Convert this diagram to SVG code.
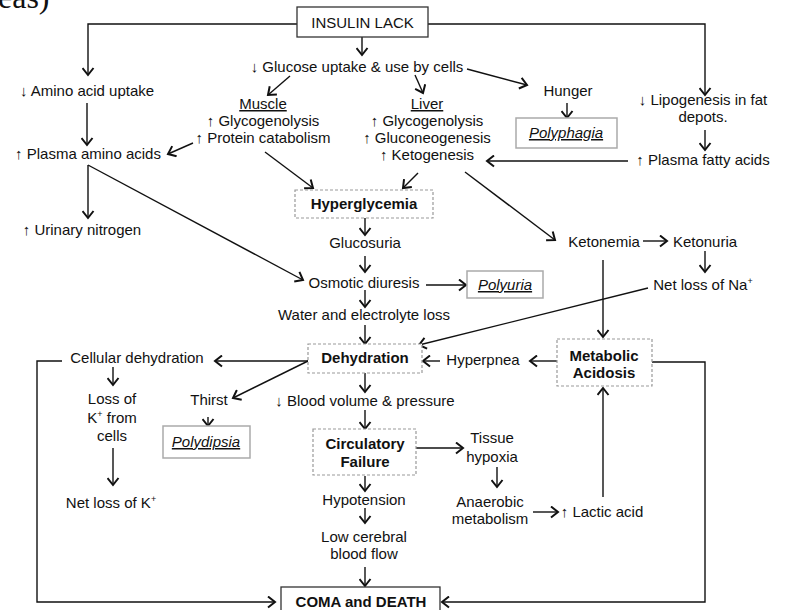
<svg xmlns="http://www.w3.org/2000/svg" width="788" height="610" viewBox="0 0 788 610">
<defs>
<style>
text{font-family:"Liberation Sans",Arial,sans-serif;font-size:15px;fill:#111;text-anchor:middle}
.b{font-weight:bold}
.i{font-style:italic;text-decoration:underline}
.u{text-decoration:underline}
.solid{fill:#fff;stroke:#333;stroke-width:1.3}
.light{fill:#fff;stroke:#aaa;stroke-width:1.5}
.dash{fill:#fff;stroke:#999;stroke-width:1.2;stroke-dasharray:3 2}
#connectors path{fill:none;stroke:#111;stroke-width:1.4;marker-end:url(#a)}
</style>
<marker id="a" markerWidth="13" markerHeight="13" refX="9.5" refY="6.5" orient="auto" markerUnits="userSpaceOnUse" viewBox="0 0 13 13">
<path d="M2.5,1 L9.5,6.5 L2.5,12" fill="none" stroke="#111" stroke-width="2"/>
</marker>
</defs>
<rect width="788" height="610" fill="#fff"/>
<text x="-2" y="8" style="font-family:'Liberation Serif',serif;font-size:32px;text-anchor:start">eas)</text>

<g id="connectors">
<path d="M297,24 H88 V75"/>
<path d="M428,24 H705 V95"/>
<path d="M362,37 V55"/>
<path d="M290,76 L268,95"/>
<path d="M415,75 L423,93"/>
<path d="M467,69 L527,85"/>
<path d="M567,103 V118"/>
<path d="M705,130 V150"/>
<path d="M628,161 H487"/>
<path d="M87,103 V145"/>
<path d="M193,143 L168,154"/>
<path d="M88,165 V218"/>
<path d="M88,165 L303,280"/>
<path d="M265,152 L313,188"/>
<path d="M418,173 L403,188"/>
<path d="M465,172 L555,240"/>
<path d="M365,218 V235"/>
<path d="M365,256 V272"/>
<path d="M426,285 H466"/>
<path d="M365,290 V307"/>
<path d="M365,325 V344"/>
<path d="M643,241 H667"/>
<path d="M705,251 V272"/>
<path d="M648,288 L419,345"/>
<path d="M603,260 V337"/>
<path d="M557,361 H530"/>
<path d="M440,361 H423"/>
<path d="M308,361 H215"/>
<path d="M308,361 L233,398"/>
<path d="M62,361 H37 V602 H275"/>
<path d="M113,367 V385"/>
<path d="M208,417 V426"/>
<path d="M113,448 V485"/>
<path d="M365,373 V392"/>
<path d="M365,410 V429"/>
<path d="M416,448 H463"/>
<path d="M497,467 V487"/>
<path d="M533,512 H558"/>
<path d="M603,497 V388"/>
<path d="M652,362 H705 V602 H442"/>
<path d="M365,476 V491"/>
<path d="M365,508 V523"/>
<path d="M365,567 V586"/>
</g>

<g id="insulin-lack"><rect class="solid" x="297" y="7" width="131" height="30"/><text x="362.5" y="28">INSULIN LACK</text></g>
<g id="glucose-uptake"><text x="357" y="72">↓ Glucose uptake &amp; use by cells</text></g>
<g id="muscle"><text class="u" x="263" y="109">Muscle</text><text x="263" y="126">↑ Glycogenolysis</text><text x="263" y="143">↑ Protein catabolism</text></g>
<g id="liver"><text class="u" x="427" y="109">Liver</text><text x="427" y="126">↑ Glycogenolysis</text><text x="427" y="143">↑ Gluconeogenesis</text><text x="427" y="160">↑ Ketogenesis</text></g>
<g id="hunger"><text x="568" y="96">Hunger</text></g>
<g id="polyphagia"><rect class="light" x="516" y="118" width="101" height="30"/><text class="i" x="566" y="138">Polyphagia</text></g>
<g id="lipogenesis"><text x="703" y="105">↓ Lipogenesis in fat</text><text x="703" y="122">depots.</text></g>
<g id="plasma-fatty-acids"><text x="703" y="165">↑ Plasma fatty acids</text></g>
<g id="amino-uptake"><text x="87" y="96">↓ Amino acid uptake</text></g>
<g id="plasma-amino-acids"><text x="88" y="159">↑ Plasma amino acids</text></g>
<g id="urinary-nitrogen"><text x="82" y="235">↑ Urinary nitrogen</text></g>
<g id="hyperglycemia"><rect class="dash" x="295" y="190" width="138" height="28"/><text class="b" x="364" y="209">Hyperglycemia</text></g>
<g id="glucosuria"><text x="365" y="248">Glucosuria</text></g>
<g id="osmotic-diuresis"><text x="364" y="288">Osmotic diuresis</text></g>
<g id="polyuria"><rect class="light" x="467" y="271" width="76" height="27"/><text class="i" x="505" y="290">Polyuria</text></g>
<g id="water-loss"><text x="364" y="320">Water and electrolyte loss</text></g>
<g id="dehydration"><rect class="dash" x="308" y="344" width="114" height="29"/><text class="b" x="365" y="363">Dehydration</text></g>
<g id="ketonemia"><text x="604" y="247">Ketonemia</text></g>
<g id="ketonuria"><text x="705" y="247">Ketonuria</text></g>
<g id="net-loss-na"><text x="703" y="290">Net loss of Na<tspan font-size="9" dy="-6">+</tspan></text></g>
<g id="metabolic-acidosis"><rect class="dash" x="557" y="339" width="95" height="47"/><text class="b" x="604" y="361">Metabolic</text><text class="b" x="604" y="378">Acidosis</text></g>
<g id="hyperpnea"><text x="483" y="365">Hyperpnea</text></g>
<g id="cellular-dehydration"><text x="137" y="363">Cellular dehydration</text></g>
<g id="loss-of-k"><text x="112" y="404">Loss of</text><text x="112" y="423">K<tspan font-size="9" dy="-6">+</tspan><tspan dy="6"> from</tspan></text><text x="112" y="441">cells</text></g>
<g id="net-loss-k"><text x="111" y="508">Net loss of K<tspan font-size="9" dy="-6">+</tspan></text></g>
<g id="thirst"><text x="209" y="405">Thirst</text></g>
<g id="polydipsia"><rect class="light" x="163" y="426" width="87" height="32"/><text class="i" x="206" y="447">Polydipsia</text></g>
<g id="blood-volume"><text x="365" y="406">↓ Blood volume &amp; pressure</text></g>
<g id="circulatory-failure"><rect class="dash" x="313" y="429" width="103" height="46"/><text class="b" x="365" y="449">Circulatory</text><text class="b" x="365" y="467">Failure</text></g>
<g id="tissue-hypoxia"><text x="492" y="443">Tissue</text><text x="492" y="462">hypoxia</text></g>
<g id="anaerobic"><text x="490" y="507">Anaerobic</text><text x="490" y="524">metabolism</text></g>
<g id="lactic-acid"><text x="602" y="517">↑ Lactic acid</text></g>
<g id="hypotension"><text x="364" y="505">Hypotension</text></g>
<g id="low-cerebral"><text x="364" y="542">Low cerebral</text><text x="364" y="559">blood flow</text></g>
<g id="coma-death"><rect class="solid" x="281" y="587" width="159" height="30"/><text class="b" x="361" y="607">COMA and DEATH</text></g>
</svg>
